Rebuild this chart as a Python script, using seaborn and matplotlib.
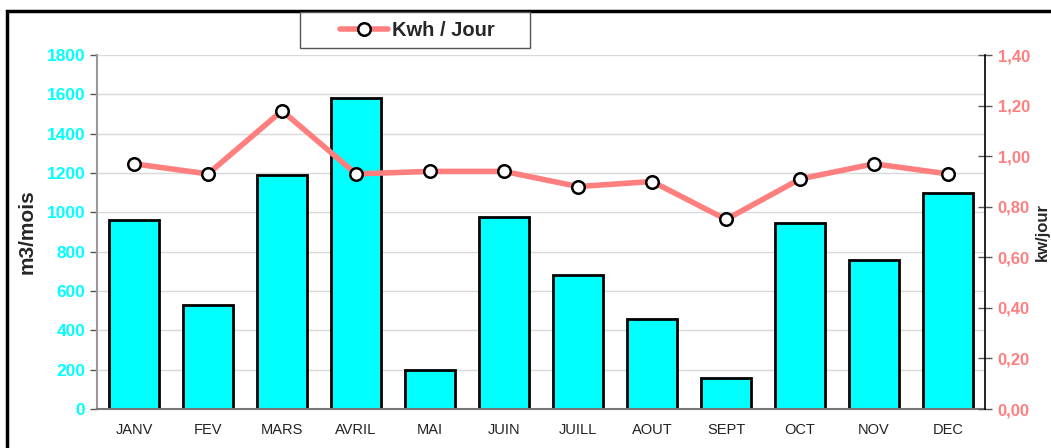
import numpy as np
import pandas as pd
import matplotlib.pyplot as plt
from matplotlib.patches import Rectangle
from matplotlib.ticker import FixedLocator, FuncFormatter
import seaborn as sns

# Data
months = ["JANV", "FEV", "MARS", "AVRIL", "MAI", "JUIN",
          "JUILL", "AOUT", "SEPT", "OCT", "NOV", "DEC"]
m3_mois = [960, 530, 1190, 1580, 200, 975, 680, 460, 160, 945, 760, 1100]
kwh_jour = [0.97, 0.93, 1.18, 0.93, 0.94, 0.94, 0.88, 0.90, 0.75, 0.91, 0.97, 0.93]

df = pd.DataFrame({"Mois": months, "m3": m3_mois, "kwh": kwh_jour})

sns.set_style("white")
plt.rcParams["font.family"] = ["Liberation Sans", "DejaVu Sans"]

cyan = "#00FFFF"
salmon = "#FF7F7F"

fig = plt.figure(figsize=(10.51, 4.48), dpi=100)
ax = fig.add_axes([0.0923, 0.087, 0.845, 0.790])

# -----------------------------
# Bars (m3 / mois)
# -----------------------------
sns.barplot(data=df, x="Mois", y="m3", color=cyan, saturation=1,
            width=0.68, edgecolor="black", linewidth=2, ax=ax, zorder=2)
ax.set_ylim(0, 1800)
ax.set_xlim(-0.5, 11.5)
ax.set_yticks(np.arange(0, 1801, 200))
ax.yaxis.grid(True, color="#d9d9d9", linewidth=1)
ax.set_axisbelow(True)
ax.set_xlabel("")
ax.set_ylabel("m3/mois", fontsize=15, fontweight="bold")
ax.yaxis.set_label_coords(-0.068, 0.5)
ax.tick_params(axis="y", colors=cyan, labelsize=12.5, length=5, width=1,
               direction="out")
for lab in ax.get_yticklabels():
    lab.set_fontweight("bold")
ax.tick_params(axis="y", which="major", color="#555555")
ax.tick_params(axis="x", length=0, labelsize=10.5, pad=10, labelcolor="#222222")
ax.xaxis.set_minor_locator(FixedLocator(np.arange(0.5, 11.5, 1)))
ax.tick_params(axis="x", which="minor", length=10, direction="inout",
               color="#555555", width=1)
for side in ["top", "right"]:
    ax.spines[side].set_visible(False)
ax.spines["left"].set_color("#999999")
ax.spines["bottom"].set_color("#777777")
ax.spines["left"].set_linewidth(1.5)
ax.spines["bottom"].set_linewidth(1.5)

# -----------------------------
# Line (kwh / jour)
# -----------------------------
ax2 = ax.twinx()
sns.lineplot(x=np.arange(len(months)), y=kwh_jour, ax=ax2, color=salmon,
             linewidth=4, marker="o", markersize=9, markerfacecolor="white",
             markeredgecolor="black", markeredgewidth=1.8, zorder=5,
             label="Kwh / Jour", legend=False)
ax2.set_ylim(0, 1.4)
ax2.set_xlim(-0.5, 11.5)
ax2.set_yticks(np.arange(0, 1.41, 0.2))
ax2.yaxis.set_major_formatter(FuncFormatter(lambda v, p: f"{v:.2f}".replace(".", ",")))
ax2.tick_params(axis="y", colors=salmon, labelsize=12, length=10,
                direction="inout", width=1, pad=4)
ax2.tick_params(axis="y", color="#555555")
for lab in ax2.get_yticklabels():
    lab.set_fontweight("bold")
ax2.set_ylabel("kw/jour", fontsize=12, fontweight="bold")
ax2.yaxis.set_label_coords(1.056, 0.5)
for side in ["top", "left", "bottom"]:
    ax2.spines[side].set_visible(False)
ax2.spines["right"].set_color("black")
ax2.spines["right"].set_linewidth(1.2)

# Legend (box drawn separately to match the wide frame)
handles, labels = ax2.get_legend_handles_labels()
fig.legend(handles, labels, loc="center left",
           bbox_to_anchor=(322 / 1051, 1 - 31 / 448), frameon=False,
           handlelength=2.4, handletextpad=0.2,
           prop={"size": 14.5, "weight": "bold"})
fig.patches.append(Rectangle((300 / 1051, 1 - 48 / 448), 230 / 1051, 36 / 448,
                             transform=fig.transFigure, fill=True,
                             facecolor="white", edgecolor="#555555",
                             linewidth=1, zorder=3))

# Outer border of the chart
fig.patches.append(Rectangle((7 / 1051, -0.1), 1.2, 1 - 11 / 448 + 0.1,
                             transform=fig.transFigure, fill=False,
                             edgecolor="black", linewidth=2.5, zorder=0))

plt.savefig("out.png", dpi=100)
plt.close()
